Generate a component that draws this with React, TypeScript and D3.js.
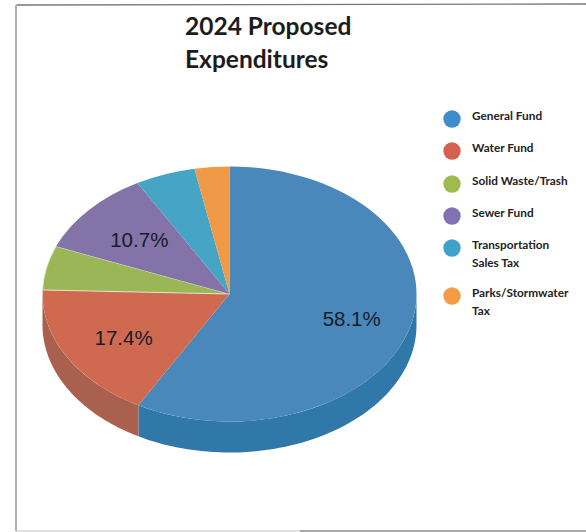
import React from "react";
import * as d3 from "d3";

const WIDTH = 586;
const HEIGHT = 532;

const categories = ["General Fund", "Water Fund", "Solid Waste/Trash", "Sewer Fund", "Transportation Sales Tax", "Parks/Stormwater Tax"];
const shares = [58.1, 17.4, 5.6, 10.7, 5.2, 3.0];
const topColors = ["#4a87bb", "#cf6a50", "#9bb656", "#8373a9", "#46a5c4", "#f09a48"];
const wallColors = ["#2f78a8", "#a9604e", "#7f9645", "#6a5c8c", "#2f86a2", "#c87d38"];
const legendColors = ["#3f8ccb", "#d5604f", "#9dbb4f", "#8272b4", "#3fa3c9", "#f59a45"];
const legendLines = [["General Fund"], ["Water Fund"], ["Solid Waste/Trash"], ["Sewer Fund"], ["Transportation", "Sales Tax"], ["Parks/Stormwater", "Tax"]];
const legendCenters = [119, 151, 184, 216, 248, 296];
const labelled = [0, 1, 3];
// Nudges that move each value label away from its slice centroid.
const labelNudges: Record<number, [number, number]> = { 0: [10, 5], 1: [-5, 5], 3: [-3, -2] };

const cx = 229.5;
const cy = 294;
const rx = 187;
const ry = 127.5;
const depth = 31;

const slices = d3.pie<number>().sort(null).value((d) => d)(shares);
const arc = d3.arc<d3.PieArcDatum<number>>().innerRadius(0).outerRadius(rx);
const labelArc = d3.arc<d3.PieArcDatum<number>>().innerRadius(rx * 0.62).outerRadius(rx * 0.62);

// Outer wall of the tilted disc: only the part of each slice that faces the viewer.
function wallPath(start: number, end: number): string | null {
  const a0 = Math.max(start, Math.PI / 2);
  const a1 = Math.min(end, (3 * Math.PI) / 2);
  if (a1 <= a0) return null;
  const angles = d3.range(0, 65).map((i) => a0 + ((a1 - a0) * i) / 64);
  const pts: [number, number][] = angles.map((a) => [cx + rx * Math.sin(a), cy - ry * Math.cos(a)]);
  const lower: [number, number][] = pts.slice().reverse().map(([x, y]) => [x, y + depth]);
  return d3.line()([...pts, ...lower]) + "Z";
}

export default function App() {
  return (
    <svg
      width={WIDTH}
      height={HEIGHT}
      viewBox={`0 0 ${WIDTH} ${HEIGHT}`}
      style={{ position: "absolute", left: 0, top: 0, background: "#ffffff" }}
    >
      {/* Frame */}
      <line x1={16.5} y1={5} x2={586} y2={4} stroke="#77777a" strokeWidth={1.3} />
      <line x1={16} y1={5} x2={16} y2={531} stroke="#9a9a9a" strokeWidth={1.6} />
      <line x1={16} y1={531} x2={300} y2={531} stroke="#c4c4c4" strokeWidth={1.2} />
      <line x1={300} y1={531} x2={586} y2={531} stroke="#8a8a8a" strokeWidth={1.4} />

      {/* Title */}
      <g fontFamily="Lato, 'Open Sans', sans-serif" fontWeight={700} fontSize={24.5} fill="#1c1c1c">
        <text x={185} y={35}>2024 Proposed</text>
        <text x={185} y={68}>Expenditures</text>
      </g>

      {/* Pie walls */}
      {slices.map((s, i) => {
        const d = wallPath(s.startAngle, s.endAngle);
        return d ? <path key={categories[i]} d={d} fill={wallColors[i]} /> : null;
      })}

      {/* Pie top */}
      <g transform={`translate(${cx},${cy}) scale(1,${ry / rx})`}>
        {slices.map((s, i) => (
          <path key={categories[i]} d={arc(s) ?? ""} fill={topColors[i]} stroke={i === 2 ? "#e8ecd8" : "none"} strokeWidth={i === 2 ? 1 : 0} />
        ))}
      </g>

      {/* Value labels */}
      <g fontFamily="'Liberation Sans', Arial, sans-serif" fontSize={20.5} fill="#161c2a" textAnchor="middle">
        {labelled.map((i) => {
          const [x, y] = labelArc.centroid(slices[i]);
          const [dx, dy] = labelNudges[i];
          return (
            <text key={categories[i]} x={cx + x + dx} y={cy + (y * ry) / rx + 7 + dy}>
              {shares[i].toFixed(1)}%
            </text>
          );
        })}
      </g>

      {/* Legend */}
      <g fontFamily="Lato, 'Open Sans', sans-serif" fontWeight={700} fontSize={11.8} fill="#222222">
        {legendLines.map((lines, i) => (
          <g key={categories[i]}>
            <circle cx={452} cy={legendCenters[i]} r={8.7} fill={legendColors[i]} />
            {lines.map((t, j) => (
              <text key={t} x={472} y={legendCenters[i] + 1 + j * 18}>
                {t}
              </text>
            ))}
          </g>
        ))}
      </g>
    </svg>
  );
}
